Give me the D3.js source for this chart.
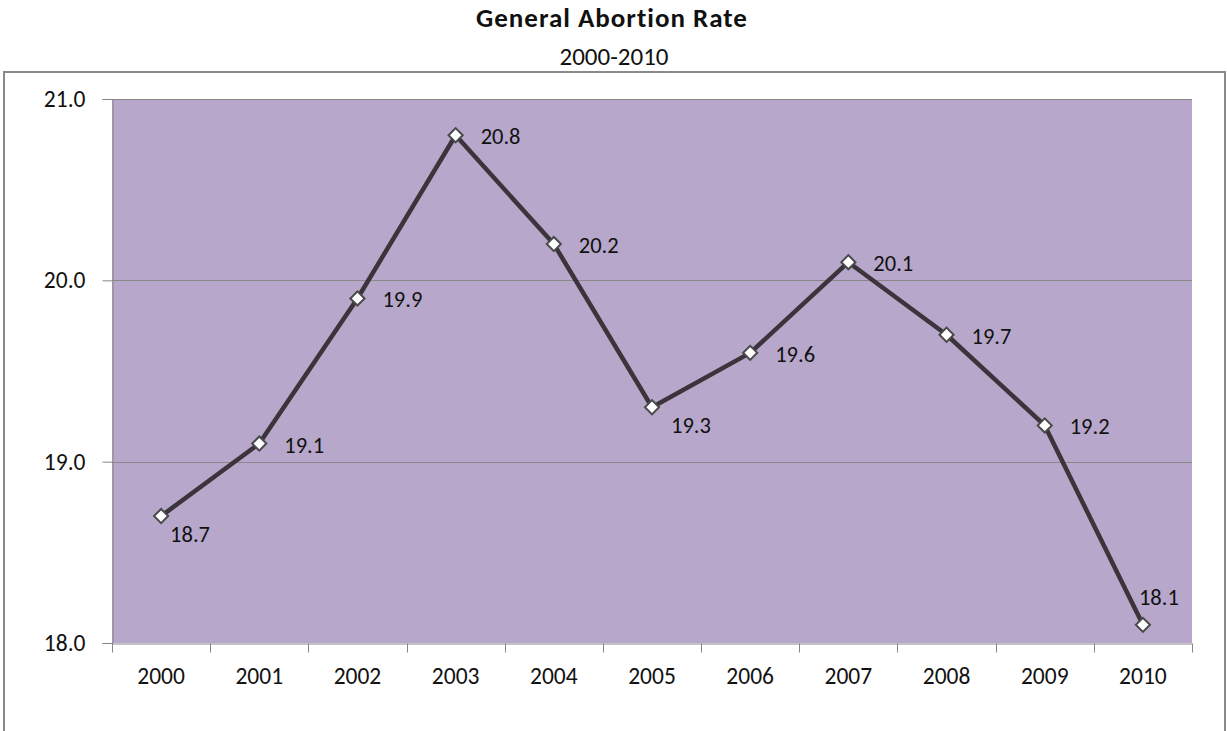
<!DOCTYPE html>
<html>
<head>
<meta charset="utf-8">
<script src="https://cdn.jsdelivr.net/npm/d3@7"></script>
<style>
  html, body { margin: 0; padding: 0; background: #ffffff; }
  #chart { width: 1227px; height: 731px; }
</style>
</head>
<body>
<div id="chart"></div>
<script>
// ==========================================================================
// DATA
// ==========================================================================

const years = ['2000', '2001', '2002', '2003', '2004', '2005', '2006', '2007', '2008', '2009', '2010'];
const rates = [18.7, 19.1, 19.9, 20.8, 20.2, 19.3, 19.6, 20.1, 19.7, 19.2, 18.1];
const yTicks = [18, 19, 20, 21];
// where the data label sits relative to its marker
const labelSide = ['below', 'right', 'right', 'right', 'right', 'below2', 'right', 'right', 'right', 'right', 'above'];

const chartTitle = 'General Abortion Rate';
const chartSubtitle = '2000-2010';

// ==========================================================================
// CONFIG
// ==========================================================================

const CHART_CONFIG = {
    width: 1227,
    height: 731,
    plot: { left: 112, right: 1192, top: 99, bottom: 643 },
    font: 'Carlito, Calibri, Lato, sans-serif',
    colors: {
        plotBg: '#b7a7cb',
        grid: '#888888',
        axis: '#868686',
        frame: '#8a8a8a',
        line: '#3b343a',
        markerStroke: '#4a4a4a',
        text: '#111111'
    }
};

function renderChart() {
    const c = CHART_CONFIG;
    const p = c.plot;

    const svg = d3.select('#chart')
        .append('svg')
        .attr('width', c.width)
        .attr('height', c.height);

    // Titulo
    svg.append('text')
        .attr('x', 612).attr('y', 27)
        .attr('text-anchor', 'middle')
        .style('font-family', c.font)
        .style('font-weight', 'bold')
        .style('font-size', '27px')
        .style('letter-spacing', '1px')
        .style('fill', c.colors.text)
        .text(chartTitle);

    svg.append('text')
        .attr('x', 614).attr('y', 65)
        .attr('text-anchor', 'middle')
        .style('font-family', c.font)
        .style('font-size', '25px')
        .style('fill', c.colors.text)
        .text(chartSubtitle);

    // Moldura externa
    svg.append('rect')
        .attr('x', 4).attr('y', 72)
        .attr('width', 1221).attr('height', 700)
        .attr('fill', 'none')
        .attr('stroke', c.colors.frame)
        .attr('stroke-width', 2);

    // Escalas
    const x = d3.scaleBand()
        .domain(years)
        .range([p.left, p.right]);

    const y = d3.scaleLinear()
        .domain([18, 21])
        .range([p.bottom, p.top]);

    // Area do grafico
    svg.append('rect')
        .attr('x', p.left).attr('y', p.top)
        .attr('width', p.right - p.left)
        .attr('height', p.bottom - p.top)
        .attr('fill', c.colors.plotBg);

    // Linhas de grade
    svg.append('g')
        .selectAll('line')
        .data(yTicks.filter(t => t > 18))
        .enter().append('line')
        .attr('x1', p.left).attr('x2', p.right)
        .attr('y1', d => Math.round(y(d)) + 0.5)
        .attr('y2', d => Math.round(y(d)) + 0.5)
        .attr('stroke', c.colors.grid)
        .attr('stroke-width', 1);

    // Eixo Y
    const yAxis = svg.append('g')
        .attr('transform', `translate(${p.left + 0.5},0)`)
        .call(d3.axisLeft(y)
            .tickValues(yTicks)
            .tickSize(10)
            .tickPadding(17)
            .tickFormat(d3.format('.1f')));

    // Eixo X
    const xAxis = svg.append('g')
        .attr('transform', `translate(0,${p.bottom + 0.5})`)
        .call(d3.axisBottom(x).tickSize(0).tickPadding(24));

    // marcas do eixo X entre as categorias
    xAxis.selectAll('.boundary')
        .data(years.concat(['end']))
        .enter().append('line')
        .attr('class', 'boundary')
        .attr('x1', (d, i) => Math.round(i < years.length ? x(d) : p.right) + 0.5)
        .attr('x2', (d, i) => Math.round(i < years.length ? x(d) : p.right) + 0.5)
        .attr('y1', 0).attr('y2', 9)
        .attr('stroke', c.colors.axis);

    svg.selectAll('.domain')
        .attr('stroke', c.colors.axis)
        .attr('stroke-width', 1);
    yAxis.selectAll('.tick line').attr('stroke', c.colors.axis);
    svg.selectAll('.tick text')
        .style('font-family', c.font)
        .style('font-size', '23.5px')
        .style('fill', c.colors.text);

    // Linha da serie
    const cx = d => x(d.year) + x.bandwidth() / 2;
    const points = years.map((year, i) => ({ year, value: rates[i], side: labelSide[i] }));

    svg.append('path')
        .datum(points)
        .attr('fill', 'none')
        .attr('stroke', c.colors.line)
        .attr('stroke-width', 4.5)
        .attr('stroke-linejoin', 'round')
        .attr('d', d3.line().x(cx).y(d => y(d.value)));

    // Marcadores (losangos)
    svg.append('g')
        .selectAll('path')
        .data(points)
        .enter().append('path')
        .attr('transform', d => `translate(${cx(d)},${y(d.value)}) rotate(45)`)
        .attr('d', d3.symbol().type(d3.symbolSquare).size(100))
        .attr('fill', '#ffffff')
        .attr('stroke', c.colors.markerStroke)
        .attr('stroke-width', 2);

    // Rotulos de valores
    const offsets = {
        right: [25, 9],
        below: [9, 26],
        below2: [19, 26],
        above: [-4, -20]
    };

    svg.append('g')
        .selectAll('text')
        .data(points)
        .enter().append('text')
        .attr('x', d => cx(d) + offsets[d.side][0])
        .attr('y', d => y(d.value) + offsets[d.side][1])
        .style('font-family', c.font)
        .style('font-size', '22.5px')
        .style('fill', c.colors.text)
        .text(d => d.value.toFixed(1));
}

renderChart();
</script>
</body>
</html>
